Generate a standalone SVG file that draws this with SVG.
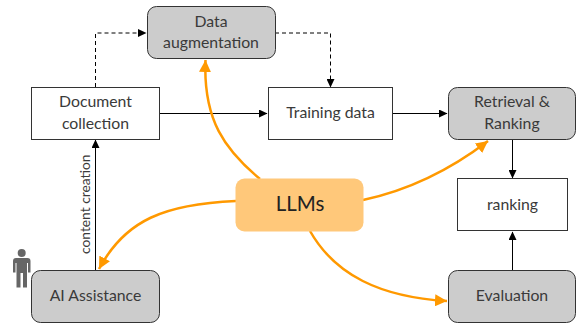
<svg xmlns="http://www.w3.org/2000/svg" width="576" height="325" viewBox="0 0 576 325">
<style>
.box{stroke:#333;stroke-width:1;}
.w{fill:#fff}
.g{fill:#ccc}
text{font-family:Lato,"Open Sans",sans-serif;font-size:15.800px;fill:#3a3a3a;text-anchor:middle}
.c{fill:none;stroke:#000;stroke-width:1}
.d{stroke-dasharray:4 3}
.o{fill:none;stroke:#f90;stroke-width:2.500}
</style>
<defs>
<marker id="a" markerUnits="userSpaceOnUse" markerWidth="9" markerHeight="8" refX="8" refY="4" orient="auto"><path d="M0 0L8.500 4L0 8Z" fill="#000"/></marker>
<marker id="b" markerUnits="userSpaceOnUse" markerWidth="14" markerHeight="12" refX="12" refY="6" orient="auto"><path d="M0 0L12 6L0 12Z" fill="#f90"/></marker>
</defs>
<rect width="576" height="325" fill="#fff"/>
<g id="connectors">
<path class="c d" d="M95.500 87V33H146" marker-end="url(#a)"/>
<path class="c d" d="M275 33H330.500V87" marker-end="url(#a)"/>
<path class="c" d="M159 113.500H267" marker-end="url(#a)"/>
<path class="c" d="M393 113.500H447" marker-end="url(#a)"/>
<path class="c" d="M95.500 270V140" marker-end="url(#a)"/>
<path class="c" d="M512.500 139V178" marker-end="url(#a)"/>
<path class="c" d="M512.500 270V232" marker-end="url(#a)"/>
<path class="o" d="M260 179C225 150 203 120 205.500 60" marker-end="url(#b)"/>
<path class="o" d="M236 201C165 204 125 220 99 269" marker-end="url(#b)"/>
<path class="o" d="M363 200C410 190 450 170 488 141" marker-end="url(#b)"/>
<path class="o" d="M310 231C335 275 380 297 447 301" marker-end="url(#b)"/>
</g>
<g id="data-augmentation"><rect class="box g" x="147.500" y="6.500" width="128" height="52" rx="9"/><text x="211" y="27">Data</text><text x="211" y="48">augmentation</text></g>
<g id="document-collection"><rect class="box w" x="31.500" y="87.500" width="128" height="52"/><text x="95.500" y="107">Document</text><text x="95.500" y="129">collection</text></g>
<g id="training-data"><rect class="box w" x="268.500" y="87.500" width="124" height="52"/><text x="330.500" y="118">Training data</text></g>
<g id="retrieval-ranking"><rect class="box g" x="448.500" y="87.500" width="127" height="52" rx="9"/><text x="512" y="107">Retrieval &amp;</text><text x="512" y="129">Ranking</text></g>
<g id="ranking"><rect class="box w" x="457.500" y="178.500" width="110" height="52"/><text x="512.500" y="210">ranking</text></g>
<g id="evaluation"><rect class="box g" x="448.500" y="270.500" width="127" height="52" rx="9"/><text x="512" y="301">Evaluation</text></g>
<g id="ai-assistance"><rect class="box g" x="31.500" y="270.500" width="128" height="52" rx="9"/><text x="95.500" y="301">AI Assistance</text></g>
<g id="llms"><rect x="235.500" y="178.500" width="128" height="53" rx="9" fill="#ffc87a"/><text x="300" y="211" style="font-size:20.500px;fill:#222">LLMs</text></g>
<g id="person" fill="#666"><circle cx="21.700" cy="253" r="4"/><path d="M16 258H27.500Q30.500 258 30.500 261V272.500H28V263H27V287.500H23V273H20.500V287.500H16.500V263H15.500V272.500H13V261Q13 258 16 258Z"/></g>
<text transform="translate(90,254) rotate(-90)" style="font-size:13.800px;text-anchor:start">content creation</text>
</svg>
